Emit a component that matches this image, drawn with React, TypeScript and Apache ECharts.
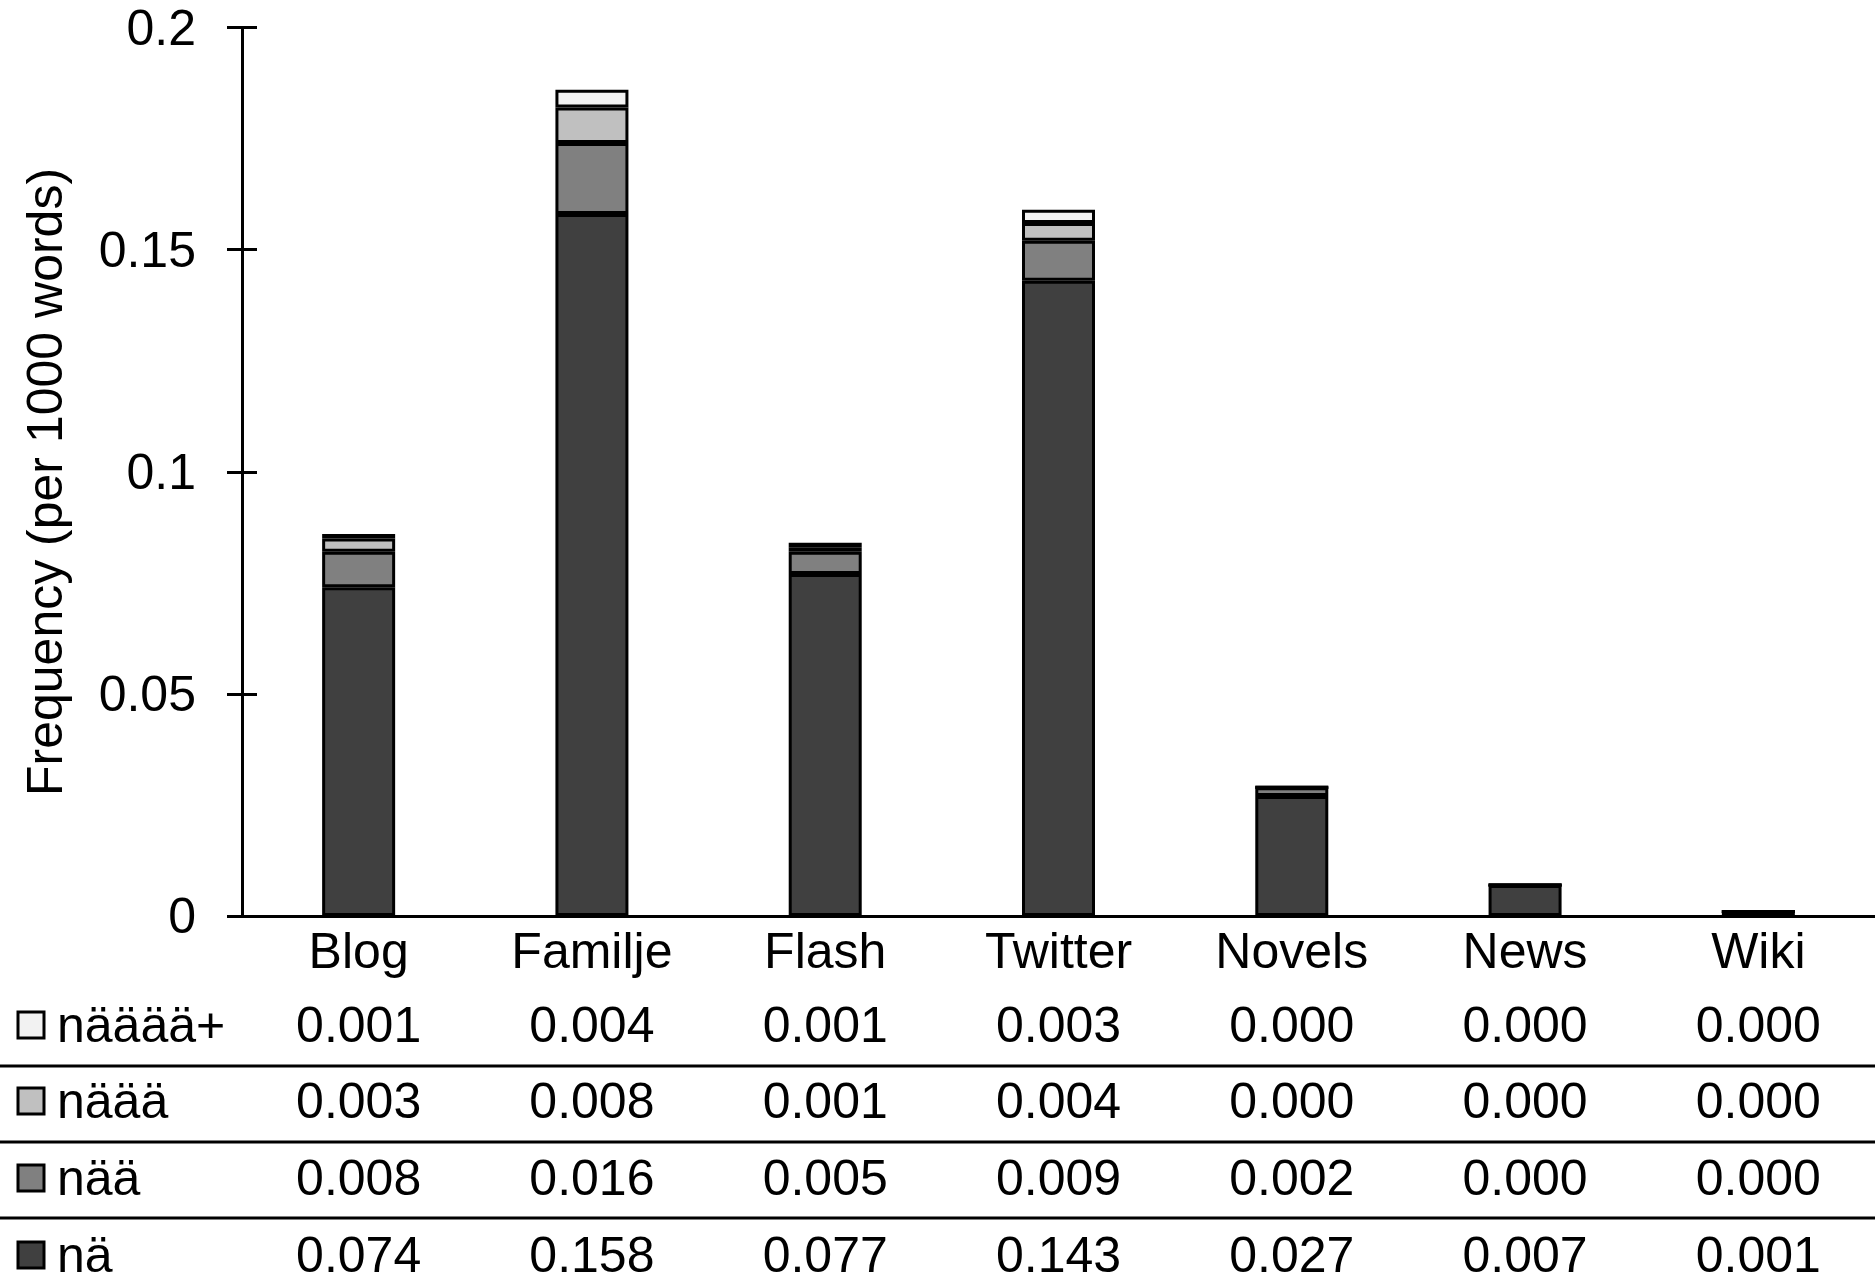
import React, { useEffect, useRef } from "react";
import * as echarts from "echarts";

const categories = ["Blog", "Familje", "Flash", "Twitter", "Novels", "News", "Wiki"];
const valuesNa = [0.074, 0.158, 0.077, 0.143, 0.027, 0.007, 0.001];
const valuesNaa = [0.008, 0.016, 0.005, 0.009, 0.002, 0.0, 0.0];
const valuesNaaa = [0.003, 0.008, 0.001, 0.004, 0.0, 0.0, 0.0];
const valuesNaaaa = [0.001, 0.004, 0.001, 0.003, 0.0, 0.0, 0.0];
const seriesNames = ["nä", "nää", "näää", "nääää+"];
const seriesColors = ["#404040", "#808080", "#c0c0c0", "#f2f2f2"];
const yAxisTitle = "Frequency (per 1000 words)";
const yMin = 0;
const yMax = 0.2;
const yInterval = 0.05;

const FONT = "'Liberation Sans', Arial, sans-serif";
const FS = 50;

export default function App() {
  const ref = useRef<HTMLDivElement>(null);
  useEffect(() => {
    document.body.style.margin = "0";
    const chart = echarts.init(ref.current!, null, { renderer: "svg" });
    const seriesData = [valuesNa, valuesNaa, valuesNaaa, valuesNaaaa];
    chart.setOption({
      animation: false,
      backgroundColor: "#ffffff",
      textStyle: { fontFamily: FONT },
      grid: { left: 242, right: 0, top: 27.5, bottom: 372, containLabel: false },
      xAxis: {
        type: "category",
        data: categories,
        axisLine: { lineStyle: { color: "#000", width: 3 } },
        axisTick: { show: false },
        axisLabel: { color: "#000", fontSize: FS, fontFamily: FONT, margin: 10 },
      },
      yAxis: [
        {
          type: "value",
          min: yMin,
          max: yMax,
          interval: yInterval,
          axisLine: { show: true, lineStyle: { color: "#000", width: 3 } },
          axisTick: { show: true, inside: false, length: 15, lineStyle: { color: "#000", width: 3 } },
          axisLabel: { color: "#000", fontSize: FS, fontFamily: FONT, margin: 46 },
          splitLine: { show: false },
        },
        {
          type: "value",
          position: "left",
          min: yMin,
          max: yMax,
          interval: yInterval,
          axisLine: { show: false },
          axisTick: { show: true, inside: true, length: 15, lineStyle: { color: "#000", width: 3 } },
          axisLabel: { show: false },
          splitLine: { show: false },
        },
      ],
      series: seriesNames.map((name, i) => ({
        name,
        type: "bar",
        stack: "total",
        yAxisIndex: 0,
        barWidth: 73,
        data: seriesData[i],
        itemStyle: { color: seriesColors[i], borderColor: "#000", borderWidth: 3 },
      })),
    });

    const xs = categories.map((c) => chart.convertToPixel({ xAxisIndex: 0 }, c) as number);
    const rowCenters = [1025, 1101, 1178, 1255];
    const sepYs = [1066, 1142, 1218];
    const rowOrder = [3, 2, 1, 0];
    const graphics: any[] = [];
    graphics.push({
      type: "text",
      x: 45,
      y: 482,
      rotation: Math.PI / 2,
      style: {
        text: yAxisTitle,
        fill: "#000",
        font: `${FS}px ${FONT}`,
        align: "center",
        verticalAlign: "middle",
      },
    });
    rowOrder.forEach((si, r) => {
      const cy = rowCenters[r];
      graphics.push({
        type: "rect",
        shape: { x: 18, y: cy - 13, width: 26, height: 26 },
        style: { fill: seriesColors[si], stroke: "#000", lineWidth: 3 },
      });
      graphics.push({
        type: "text",
        x: 57,
        y: cy,
        style: { text: seriesNames[si], fill: "#000", font: `${FS}px ${FONT}`, align: "left", verticalAlign: "middle" },
      });
      seriesData[si].forEach((v, ci) => {
        graphics.push({
          type: "text",
          x: xs[ci],
          y: cy,
          style: { text: v.toFixed(3), fill: "#000", font: `${FS}px ${FONT}`, align: "center", verticalAlign: "middle" },
        });
      });
    });
    sepYs.forEach((y) => {
      graphics.push({
        type: "line",
        shape: { x1: 0, y1: y, x2: 1875, y2: y },
        style: { stroke: "#000", lineWidth: 3 },
      });
    });
    chart.setOption({ graphic: graphics });
    return () => chart.dispose();
  }, []);
  return <div ref={ref} style={{ width: 1875, height: 1288 }} />;
}
